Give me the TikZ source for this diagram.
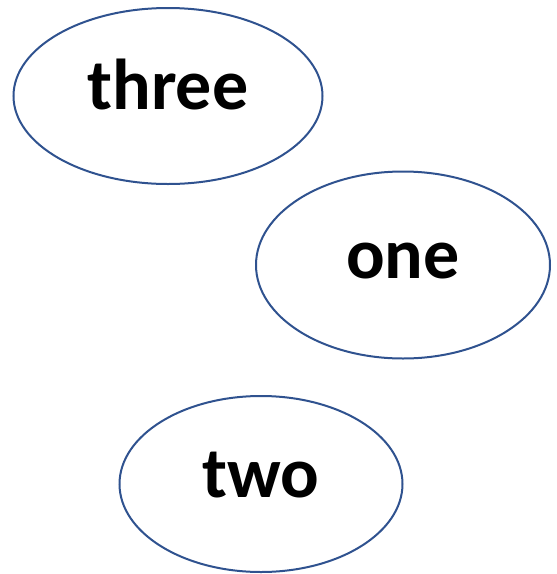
\documentclass[tikz,border=0pt]{standalone}
\usepackage{fontspec}
\setmainfont{Carlito}
\usetikzlibrary{shapes.geometric}
\definecolor{ovalblue}{HTML}{2F528F}
\begin{document}
\begin{tikzpicture}[x=1pt, y=-1pt, main/.style = {draw=ovalblue, ellipse, line width=2pt, inner sep=0pt, text height=40pt, text depth=13pt, font=\fontsize{72}{72}\selectfont\bfseries}]
    \useasboundingbox (0,0) rectangle (557,574);
    \node[main, minimum width=309pt, minimum height=176pt] (three) at (168, 96) {three};
    \node[main, minimum width=294pt, minimum height=187pt] (one) at (403, 265) {one};
    \node[main, minimum width=283pt, minimum height=176pt] (two) at (261, 484) {two};
\end{tikzpicture}
\end{document}
